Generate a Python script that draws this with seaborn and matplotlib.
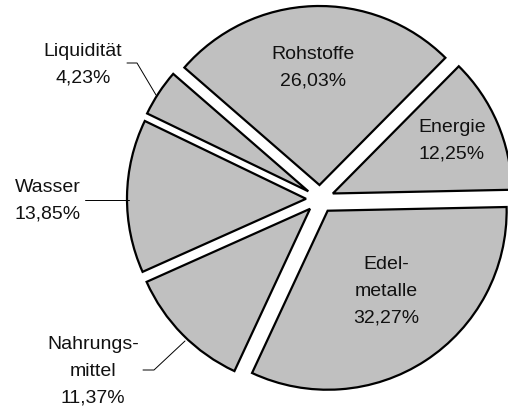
import matplotlib
matplotlib.use("Agg")
import matplotlib.pyplot as plt
import seaborn as sns

# Data
categories = ["Rohstoffe", "Energie", "Edel-\nmetalle", "Nahrungs-\nmittel", "Wasser", "Liquidität"]
shares = [26.03, 12.25, 32.27, 11.37, 13.85, 4.23]

sns.set_style("white")
plt.rcParams["font.family"] = ["Liberation Sans", "DejaVu Sans"]

W, H = 508, 407
fig = plt.figure(figsize=(W / 100, H / 100), dpi=100)
ax = fig.add_axes([0, 0, 1, 1])

cx, cy, R = 320, H - 199, 179
wedges, _ = ax.pie(
    shares,
    startangle=139,
    counterclock=False,
    center=(cx, cy),
    radius=R,
    explode=[14] * len(shares),
    colors=["#c0c0c0"] * len(shares),
    wedgeprops=dict(edgecolor="black", linewidth=1.6),
    frame=False,
)
ax.set_xlim(0, W)
ax.set_ylim(0, H)
ax.set_aspect("equal")
ax.axis("off")

def fmt(v):
    return f"{v:.2f}".replace(".", ",") + "%"

# label positions in pixel coordinates (from top-left)
label_pos = [(313, 68), (452, 141), (386, 291), (93, 371), (48, 201), (83, 65)]
for name, v, (px, py) in zip(categories, shares, label_pos):
    ax.text(px, H - py, f"{name}\n{fmt(v)}", ha="center", va="center",
            multialignment="center", fontsize=14, linespacing=1.75, color="#111111")

# leader lines (pixel coordinates)
leaders = [
    [(127, 63), (137, 63), (156, 95)],
    [(85, 200), (129, 200)],
    [(143, 370), (154, 370), (185, 341)],
]
for pts in leaders:
    xs = [p[0] for p in pts]
    ys = [H - p[1] for p in pts]
    ax.plot(xs, ys, color="black", linewidth=0.7)

fig.savefig("out.png", dpi=100)
